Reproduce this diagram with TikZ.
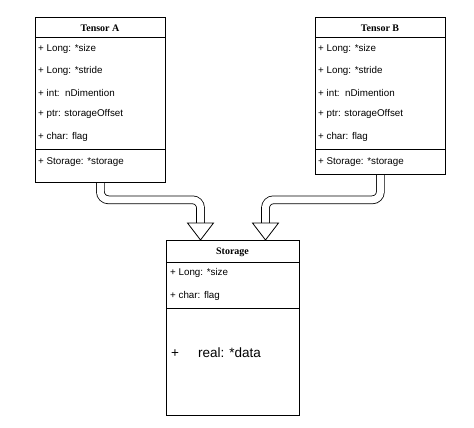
\documentclass[tikz,border=0pt]{standalone}
\usepackage{fontspec}
\setmainfont{Liberation Serif}
\setsansfont{Liberation Sans}
\usepackage{tikz}
\usetikzlibrary{positioning}

\tikzset{
  classbox/.style={draw, line width=0.8pt, minimum width=130pt, anchor=north west, inner sep=0pt},
  title/.style={font=\rmfamily\bfseries\fontsize{10}{12}\selectfont},
  field/.style={anchor=west, inner sep=0pt},
  shaft/.style={double, double distance=7pt, line width=0.8pt, rounded corners=8pt},
  head/.style={draw, fill=white, line width=0.8pt, line join=miter}
}

\begin{document}
\begin{tikzpicture}[x=1pt, y=-1pt, font=\sffamily\fontsize{9.8}{12}\selectfont]
\useasboundingbox (0,0) rectangle (474,428);

% Heads of the block arrows
\coordinate (st0) at (232.5,240);
\coordinate (hA) at ([xshift=-32pt, yshift=17pt]st0);
\coordinate (hB) at ([xshift=33pt, yshift=17pt]st0);

% Class boxes
\node[classbox, minimum height=165pt] (tA) at (35,17) {};
\node[classbox, minimum height=157pt] (tB) at (315,17) {};
\node[classbox, minimum width=133pt, minimum height=175pt] (st) at (166,240) {};

% Block arrows
\draw[shaft] (tA.south) -- ++(0,17) -| (hA);
\draw[shaft] (tB.south) -- ++(0,25) -| (hB);
\draw[head] ([xshift=-13pt]hA) -- ([xshift=13pt]hA) -- (hA |- st.north) -- cycle;
\draw[head] ([xshift=-13pt]hB) -- ([xshift=13pt]hB) -- (hB |- st.north) -- cycle;

% Redraw box borders over arrow ends
\draw[line width=0.8pt] (tA.south west) -- (tA.south east);
\draw[line width=0.8pt] (tB.south west) -- (tB.south east);

% Titles
\node[title] at (100,28) {Tensor A};
\node[title] at (380,28) {Tensor B};
\node[title] at (232.5,252) {Storage};

% Dividers
\foreach \x/\y/\w in {35/37/130, 35/149/130, 315/37/130, 315/149/130, 166/262/133, 166/308/133}
    \draw[line width=0.8pt] (\x,\y) -- ++(\w,0);

% Fields of the tensors
\foreach \y/\t in {49/{+ Long: *size}, 71/{+ Long: *stride}, 93/{+ int:\ \ nDimention},
                   114/{+ ptr: storageOffset}, 137/{+ char: flag}, 162/{+ Storage: *storage}} {
    \node[field] at (38,\y) {\t};
    \node[field] at (318,\y) {\t};
}

% Fields of the storage
\node[field] at (170,273) {+ Long: *size};
\node[field] at (170,296) {+ char: flag};
\node[field, font=\sffamily\fontsize{13.5}{16}\selectfont] at (171,353) {+\hspace{19pt}real: *data};
\end{tikzpicture}
\end{document}
